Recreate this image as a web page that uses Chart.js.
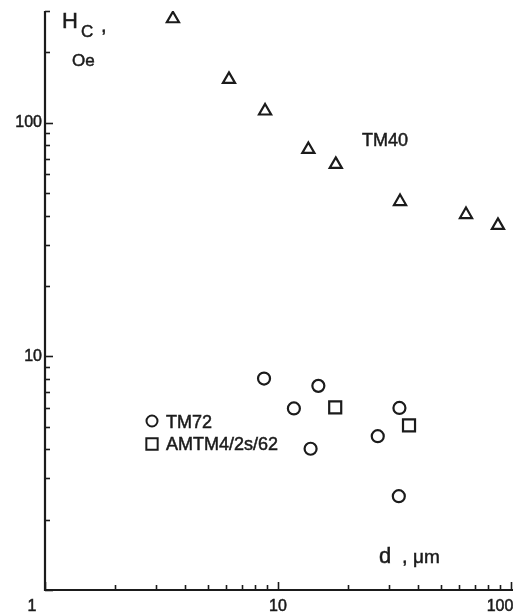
<!DOCTYPE html>
<html>
<head>
<meta charset="utf-8">
<script src="https://cdn.jsdelivr.net/npm/chart.js@4.4.1/dist/chart.umd.min.js"></script>
<style>
  html, body { margin: 0; padding: 0; background: #fff; }
</style>
</head>
<body>
<canvas id="chart" width="527" height="614"></canvas>
<script>
// Coercivity Hc (Oe) vs grain size d (um), log-log
const tm40D = [3.54, 6.16, 8.8, 13.5, 17.7, 33.4, 64.1, 87.9]
const tm40Hc = [278, 153, 112, 76.7, 66.2, 45.9, 40.4, 36.3]
const tm72D = [8.71, 14.9, 11.7, 33.2, 26.8, 13.8, 33.0]
const tm72Hc = [8.03, 7.47, 5.98, 6.01, 4.55, 4.02, 2.52]
const amtmD = [17.6, 36.5]
const amtmHc = [6.04, 5.06]
const xTickLabels = ['1', '10', '100']
const yTickLabels = ['10', '100']

const ink = '#1b1b1b'
const fontFamily = '"Liberation Sans", Arial, sans-serif'

function toPoints(xs, ys) {
    return xs.map((v, i) => ({ x: v, y: ys[i] }))
}

// values 1..9 x 10^k between min and max (for the small tick marks)
function logTickValues(min, max) {
    let vals = []
    for (let e = Math.floor(Math.log10(min)); e <= Math.ceil(Math.log10(max)); e++) {
        for (let m = 1; m <= 9; m++) {
            const v = m * Math.pow(10, e)
            if (v >= min * 0.999 && v <= max * 1.001) vals.push({ v: v, major: m === 1 })
        }
    }
    return vals
}

// fill plus a thin stroke, the scanned lettering is a bit heavier than the font
function inkText(ctx, str, x, y) {
    ctx.fillText(str, x, y)
    ctx.strokeText(str, x, y)
}

// Draws axes with inward ticks, tick labels and the annotations
const handAxes = {
    id: 'handAxes',
    afterDraw(chart) {
        const ctx = chart.ctx
        const a = chart.chartArea
        const x = chart.scales.x
        const y = chart.scales.y
        ctx.save()
        ctx.strokeStyle = ink
        ctx.fillStyle = ink

        // axis lines
        ctx.lineWidth = 2.2
        ctx.beginPath()
        ctx.moveTo(a.left, a.top)
        ctx.lineTo(a.left, a.bottom)
        ctx.lineTo(a.right + 2, a.bottom)
        ctx.stroke()

        // ticks pointing into the plot
        ctx.lineWidth = 1.6
        logTickValues(x.min, x.max).forEach(t => {
            const px = Math.round(x.getPixelForValue(t.v)) + 0.5
            ctx.beginPath()
            ctx.moveTo(px, a.bottom)
            ctx.lineTo(px, a.bottom - (t.major ? 8 : 5))
            ctx.stroke()
        })
        logTickValues(y.min, y.max).forEach(t => {
            const py = Math.round(y.getPixelForValue(t.v)) + 0.5
            ctx.beginPath()
            ctx.moveTo(a.left, py)
            ctx.lineTo(a.left + (t.major ? 8 : 5), py)
            ctx.stroke()
        })

        ctx.lineWidth = 0.5

        // tick labels
        ctx.font = '16px ' + fontFamily
        ctx.textBaseline = 'middle'
        ctx.textAlign = 'center'
        xTickLabels.forEach((lab, i) => {
            let px = x.getPixelForValue(Number(lab))
            if (i === 0) px -= 13
            if (i === xTickLabels.length - 1) px -= 11
            inkText(ctx, lab, px, a.bottom + 17)
        })
        ctx.textAlign = 'right'
        yTickLabels.forEach(lab => {
            inkText(ctx, lab, a.left - 3, y.getPixelForValue(Number(lab)))
        })

        // axis titles
        ctx.textBaseline = 'alphabetic'
        ctx.textAlign = 'left'
        ctx.font = '22px ' + fontFamily
        inkText(ctx, 'H', 62, 28)
        ctx.font = '20px ' + fontFamily
        inkText(ctx, ',', 101, 32)
        ctx.font = '17px ' + fontFamily
        inkText(ctx, 'C', 81, 37)
        inkText(ctx, 'Oe', 72, 66)

        ctx.font = '22px ' + fontFamily
        inkText(ctx, 'd', 379, 563)
        ctx.font = '20px ' + fontFamily
        inkText(ctx, ',', 402, 563)
        ctx.font = '19px ' + fontFamily
        inkText(ctx, '\u03bcm', 413, 563)

        // series labels
        ctx.font = '18px ' + fontFamily
        ctx.textBaseline = 'middle'
        inkText(ctx, 'TM40', 362, 141)
        inkText(ctx, 'TM72', 166, 423)
        inkText(ctx, 'AMTM4/2s/62', 166, 445)

        // legend symbols
        ctx.lineWidth = 2
        ctx.strokeStyle = ink
        ctx.fillStyle = 'rgba(0,0,0,0)'
        Chart.helpers.drawPoint(ctx, { pointStyle: 'circle', radius: 5.5, borderWidth: 2 }, 152, 421)
        Chart.helpers.drawPoint(ctx, { pointStyle: 'rect', radius: 8, borderWidth: 2 }, 152, 444)
        ctx.restore()
    }
}

const pointStyleBase = {
    borderColor: ink,
    backgroundColor: 'rgba(0,0,0,0)',
    borderWidth: 2.2,
    showLine: false
}

const chart = new Chart(document.getElementById('chart'), {
    type: 'scatter',
    data: {
        datasets: [
            Object.assign({ label: 'TM40', data: toPoints(tm40D, tm40Hc), pointStyle: 'triangle', pointRadius: 7 }, pointStyleBase),
            Object.assign({ label: 'TM72', data: toPoints(tm72D, tm72Hc), pointStyle: 'circle', pointRadius: 6 }, pointStyleBase),
            Object.assign({ label: 'AMTM4/2s/62', data: toPoints(amtmD, amtmHc), pointStyle: 'rect', pointRadius: 8.5 }, pointStyleBase)
        ]
    },
    options: {
        responsive: false,
        animation: false,
        layout: { padding: { left: 45, top: 11, right: 16, bottom: 24 } },
        scales: {
            x: { type: 'logarithmic', min: 1, max: 100, display: false },
            y: { type: 'logarithmic', min: 1, max: 300, display: false }
        },
        plugins: {
            legend: { display: false },
            tooltip: { enabled: false }
        }
    },
    plugins: [handAxes]
})
</script>
</body>
</html>
